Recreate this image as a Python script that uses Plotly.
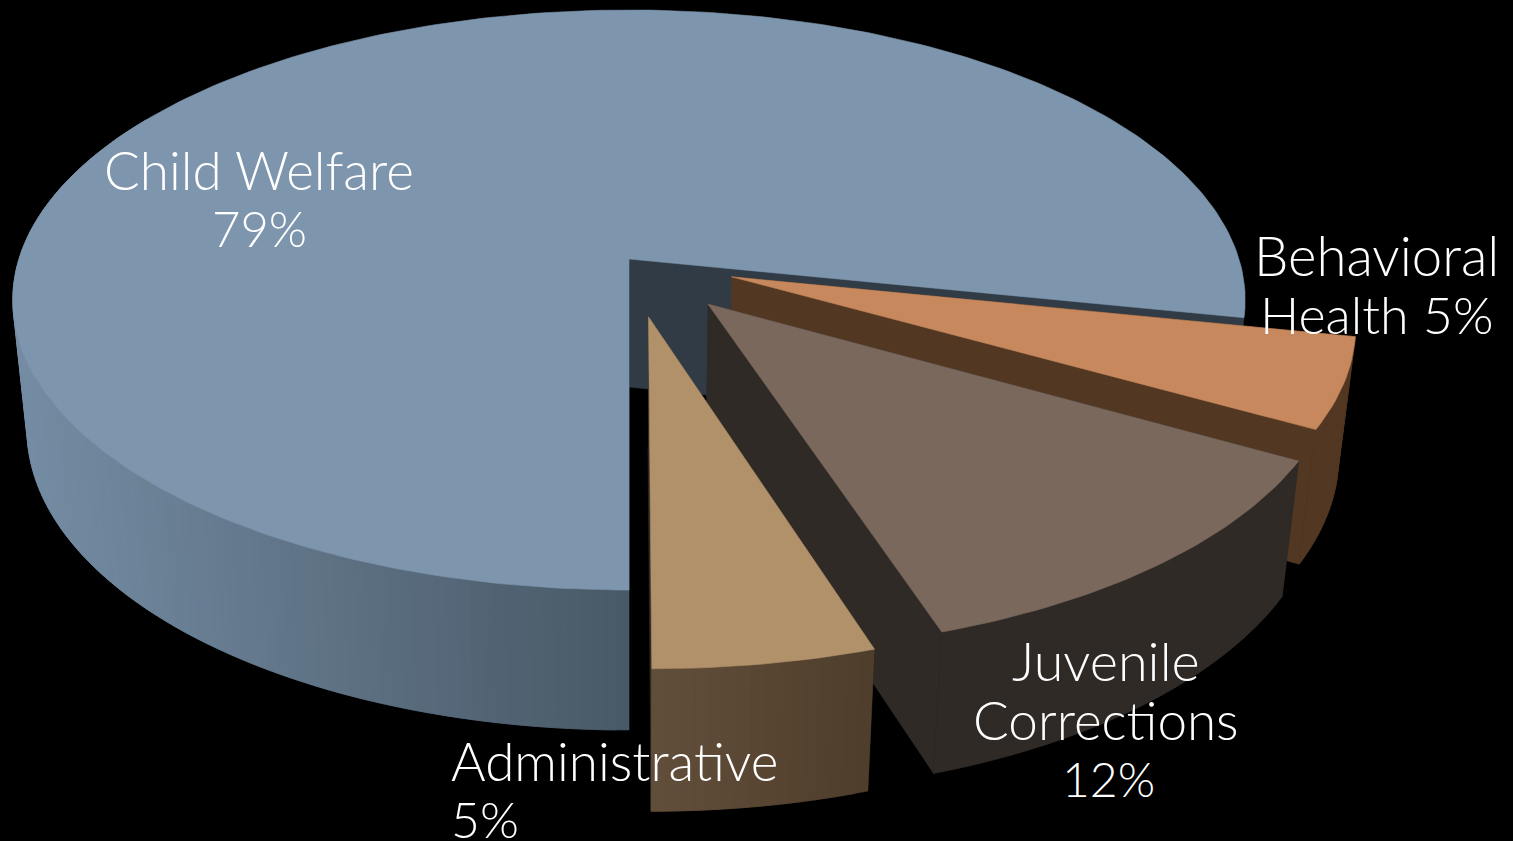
import numpy as np
import plotly.graph_objects as go

# Budget shares, drawn clockwise starting at six o'clock with the largest slice
categories = ["Child Welfare", "Behavioral Health", "Juvenile Corrections", "Administrative"]
shares = [79, 5, 12, 5]
exploded = [0.0, 0.178, 0.2, 0.2]
top_colors = ["#7e96ad", "#c6885c", "#7a685c", "#b0916a"]
wall_colors = ["#303b46", "#523722", "#2f2a26", "#2f2a26"]
# Outer rim shading: colours at the two ends of a span of clock angles
rim_shades = [("#748ca3", "#485866"), ("#523722", "#523722"),
              ("#2f2a26", "#2f2a26"), ("#4d3c2a", "#614e3a")]
rim_spans = [(270, 180), (100, 120), (120, 160), (160, 180)]

# Text lines of each label: (text, x, y, anchor, font size)
label_lines = [
    [("Child Welfare", 259, 169, "center", 53), ("79%", 259, 228, "center", 49)],
    [("Behavioral", 1376, 255, "center", 54.5), ("Health 5%", 1376, 314, "center", 52)],
    [("Juvenile", 1106, 660, "center", 54), ("Corrections", 1106, 719, "center", 53), ("12%", 1108, 778, "center", 48)],
    [("Administrative", 449, 760, "left", 53), ("5%", 449, 819, "left", 50)],
]

WIDTH, HEIGHT = 1513, 841

# Pinhole projection of the disc: u to the right, v away from the viewer, z downward
CX, F = 629.0, 610.0
A, B, C = -247.6, 259.0, 0.1414
G, E = 137.0, 0.023


def project(u, v, z):
    w = C * v + 1 + E * z
    return CX + F * u / w, (A * v + B + G * z) / w


def hex_rgb(h):
    return np.array([int(h[i:i + 2], 16) for i in (1, 3, 5)], dtype=float)


def mix(c0, c1, t):
    r = hex_rgb(c0) * (1 - t) + hex_rgb(c1) * t
    return "#%02x%02x%02x" % tuple(int(round(c)) for c in r)


fig = go.Figure()


def polygon(xs, ys, color, width=0.6):
    fig.add_trace(go.Scatter(
        x=list(xs), y=list(ys), mode="lines", fill="toself", fillcolor=color,
        line=dict(color=color, width=width), hoverinfo="skip", showlegend=False,
    ))


def draw_slice(start, end, offset, top, wall, shade, span):
    """Angles are clockwise from the far side of the disc, in degrees."""
    mid = np.radians((start + end) / 2)
    du, dv = offset * np.sin(mid), offset * np.cos(mid)
    deg = np.linspace(start, end, max(10, int(abs(end - start))))
    th = np.radians(deg)
    u, v = du + np.sin(th), dv + np.cos(th)

    # Radial cut faces
    for k in (0, -1):
        xs, ys = zip(project(du, dv, 0), project(u[k], v[k], 0),
                     project(u[k], v[k], 1), project(du, dv, 1))
        polygon(xs, ys, wall)

    # Outer rim as narrow strips so the shading can run across it
    x_top, y_top = project(u, v, 0)
    x_bot, y_bot = project(u, v, 1)
    lo = project(du + np.sin(np.radians(span[0])), dv + np.cos(np.radians(span[0])), 0)[0]
    hi = project(du + np.sin(np.radians(span[1])), dv + np.cos(np.radians(span[1])), 0)[0]
    for i in range(len(th) - 1):
        if deg[i] > 300:
            continue
        # Each strip overlaps the next one so no seam shows between them
        j = min(i + 2, len(th) - 1)
        t = ((x_top[i] + x_top[i + 1]) / 2 - lo) / (hi - lo)
        color = mix(shade[0], shade[1], float(np.clip(t, 0, 1)))
        polygon([x_top[i], x_top[j], x_bot[j], x_bot[i]],
                [y_top[i], y_top[j], y_bot[j], y_bot[i]], color)

    # Top face
    ax, ay = project(du, dv, 0)
    polygon(np.r_[ax, x_top, ax], np.r_[ay, y_top, ay], top)


total = sum(shares)
cursor = 180.0
# Back to front: each later slice sits nearer the viewer
for i, share in enumerate(shares):
    sweep = share / total * 360
    draw_slice(cursor, cursor + sweep, exploded[i], top_colors[i], wall_colors[i],
               rim_shades[i], rim_spans[i])
    cursor = (cursor + sweep) % 360

annotations = []
for lines in label_lines:
    for text, x, y, anchor, size in lines:
        annotations.append(dict(
            x=x, y=y, xref="x", yref="y", text=text, showarrow=False,
            xanchor=anchor, yanchor="middle",
            font=dict(family="Lato", size=size, color="#ffffff", weight=300),
        ))

fig.update_layout(
    width=WIDTH, height=HEIGHT, margin=dict(l=0, r=0, t=0, b=0),
    paper_bgcolor="#000000", plot_bgcolor="#000000",
    xaxis=dict(range=[0, WIDTH], visible=False, fixedrange=True),
    yaxis=dict(range=[HEIGHT, 0], visible=False, fixedrange=True),
    annotations=annotations, showlegend=False,
)
fig.write_html("out.html", config=dict(displayModeBar=False))
